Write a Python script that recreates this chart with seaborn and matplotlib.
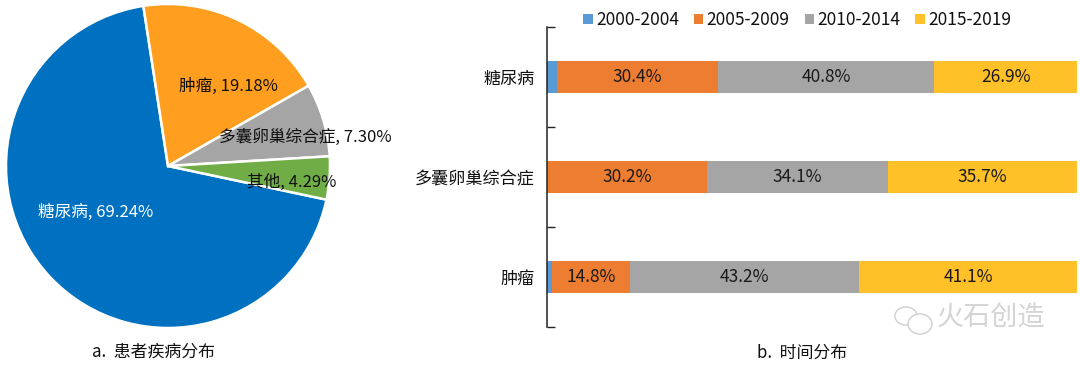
import matplotlib
matplotlib.use('Agg')
import matplotlib.pyplot as plt
import pandas as pd
import seaborn as sns
from matplotlib.patches import Ellipse

sns.set_theme(style='white')
plt.rcParams['font.family'] = ['Noto Sans CJK SC', 'DejaVu Sans']

W, H = 1080, 366

diseases = ['糖尿病', '肿瘤', '多囊卵巢综合症', '其他']
shares = [69.24, 19.18, 7.30, 4.29]
pie_colors = ['#0070C0', '#FF9E1F', '#A5A5A5', '#70AD47']
pie_labels = ['糖尿病, 69.24%', '肿瘤, 19.18%', '多囊卵巢综合症, 7.30%', '其他, 4.29%']
pie_label_colors = ['white', '#111111', '#111111', '#111111']

categories = ['糖尿病', '多囊卵巢综合症', '肿瘤']
periods = ['2000-2004', '2005-2009', '2010-2014', '2015-2019']
p2000 = [1.9, 0.0, 0.9]
p2005 = [30.4, 30.2, 14.8]
p2010 = [40.8, 34.1, 43.2]
p2015 = [26.9, 35.7, 41.1]
bar_colors = ['#5B9BD5', '#ED7D31', '#A5A5A5', '#FFC028']
value_labels = [None, ['30.4%', '30.2%', '14.8%'], ['40.8%', '34.1%', '43.2%'], ['26.9%', '35.7%', '41.1%']]


def px_axes(fig, x0, y0, x1, y1):
    return fig.add_axes([x0 / W, 1 - y1 / H, (x1 - x0) / W, (y1 - y0) / H])


fig = plt.figure(figsize=(W / 100, H / 100), dpi=100, facecolor='white')

# pie
ax1 = px_axes(fig, 6, 4, 330, 328)
wedges, _ = ax1.pie(shares, colors=pie_colors, startangle=-12, counterclock=False, radius=1,
                    wedgeprops={'edgecolor': 'white', 'linewidth': 1.8})
ax1.set_xlim(-1, 1)
ax1.set_ylim(-1, 1)
for w in wedges:
    w.set_clip_on(False)

label_pos = [(96, 212), (228, 86), (305, 137), (292, 182)]
for txt, pos, c in zip(pie_labels, label_pos, pie_label_colors):
    fig.text(pos[0] / W, 1 - pos[1] / H, txt, ha='center', va='center', fontsize=12, color=c)
fig.text(153 / W, 1 - 352 / H, 'a.  患者疾病分布', ha='center', va='center', fontsize=12.2, color='#111111')

# stacked bars
ax2 = px_axes(fig, 547, 27, 1077, 327)
df = pd.DataFrame({'cat': categories, periods[0]: p2000, periods[1]: p2005,
                   periods[2]: p2010, periods[3]: p2015})
left = [0.0, 0.0, 0.0]
for period, color, labels in zip(periods, bar_colors, value_labels):
    sns.barplot(data=df, y='cat', x=period, color=color, left=left, width=0.32,
                saturation=1, ax=ax2, label=period, orient='h', linewidth=0)
    cont = ax2.containers[-1]
    if labels:
        ax2.bar_label(cont, labels=labels, label_type='center', fontsize=12.5, color='#1a1a1a')
    left = [a + b for a, b in zip(left, df[period])]

ax2.set_xlim(0, 100)
ax2.set_ylim(2.5, -0.5)
ax2.set_xlabel('')
ax2.set_ylabel('')
ax2.set_xticks([])
ax2.set_yticks([-0.5, 0.5, 1.5, 2.5], labels=[])
ax2.set_yticks([0, 1, 2], labels=categories, minor=True)
ax2.tick_params(axis='y', which='major', direction='in', length=6, width=1, left=True, color='#222222')
ax2.tick_params(axis='y', which='minor', length=0, pad=9, labelsize=12.3, labelcolor='#111111')
sns.despine(ax=ax2, top=True, right=True, bottom=True)
ax2.spines['left'].set_color('#222222')
ax2.spines['left'].set_linewidth(1.1)

leg = ax2.legend(loc='center', bbox_to_anchor=(0.472, 1.023), ncol=4, frameon=False, fontsize=12.5,
                 handlelength=0.55, handleheight=0.55, handletextpad=0.2, columnspacing=0.85,
                 labelcolor='#111111', borderaxespad=0)

fig.text(802 / W, 1 - 353 / H, 'b.  时间分布', ha='center', va='center', fontsize=12.2, color='#111111')

# watermark
fig.text(991 / W, 1 - 318 / H, '火石创造', ha='center', va='center', fontsize=19.5, color='#d4d4d4')
ax3 = px_axes(fig, 888, 300, 938, 338)
ax3.set_xlim(888, 938)
ax3.set_ylim(338, 300)
ax3.axis('off')
ax3.add_patch(Ellipse((906, 316), 22, 18, fill=False, ec='#cfcfcf', lw=1))
ax3.add_patch(Ellipse((920, 324), 24, 20, fc='white', ec='#cfcfcf', lw=1))

fig.savefig('out.png', dpi=100)
